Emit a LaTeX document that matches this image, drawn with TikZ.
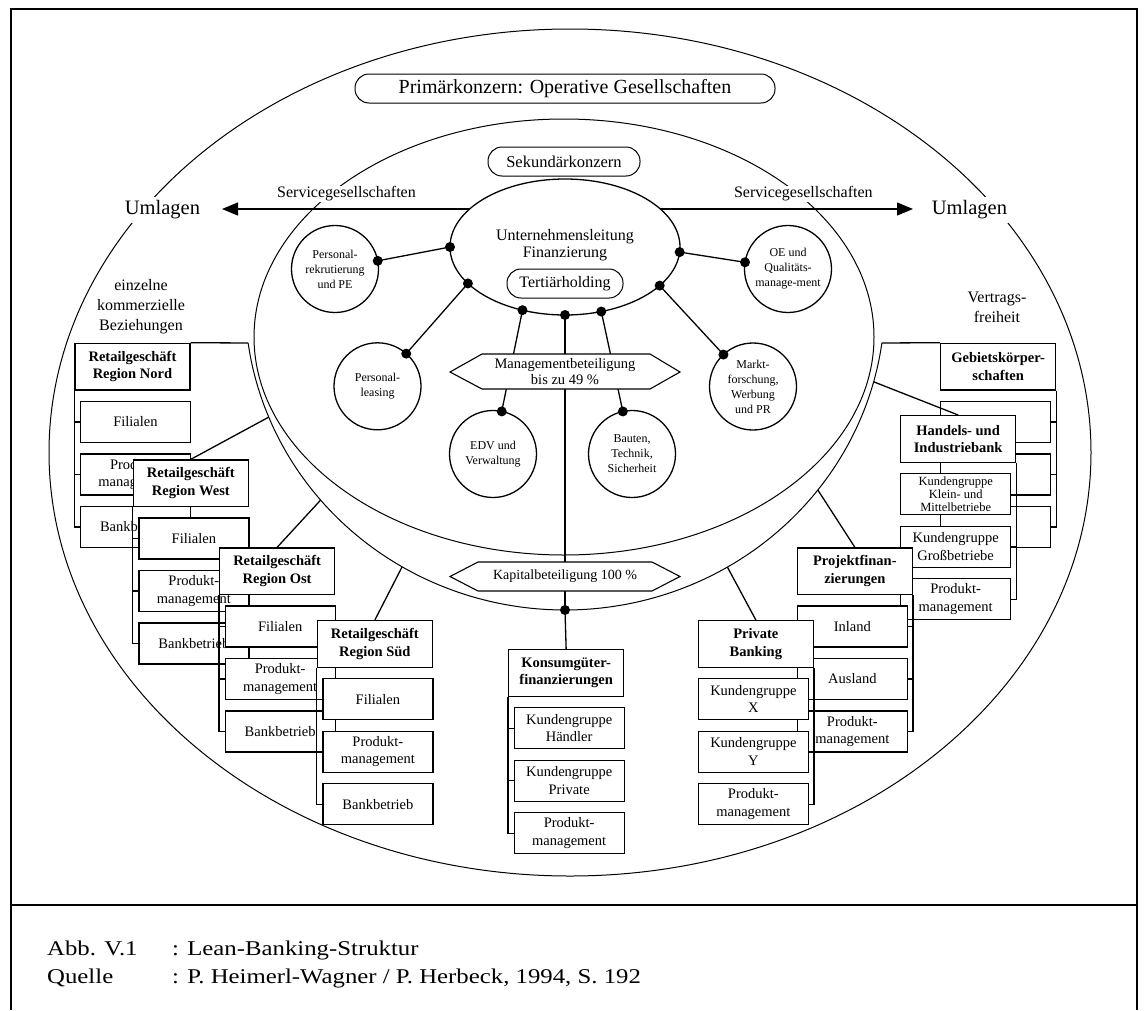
\documentclass[tikz,border=0pt]{standalone}
\usepackage{fontspec}
\setmainfont{Liberation Serif}
\newfontfamily\capfont[FakeStretch=1.18]{Liberation Serif}
\usetikzlibrary{shapes.geometric,arrows.meta,calc}
\newcommand\LeftGrp[8]{%
  \node[hdr,anchor=north west] (#1H) at (#2,#3) {#4};
  \node[sub,anchor=north west,#8] (#1a) at ({#2+5.5},{#3+58}) {#5};
  \node[sub,anchor=north west] (#1b) at ({#2+5.5},{#3+110.5}) {#6};
  \node[sub,anchor=north west] (#1c) at ({#2+5.5},{#3+163}) {#7};
  \draw[ln] (#1H.south west) |- (#1c.west);
  \draw[ln] (#1H.south west |- #1a.west) -- (#1a.west);
  \draw[ln] (#1H.south west |- #1b.west) -- (#1b.west);
}
\newcommand\RightGrp[8]{%
  \node[hdr,anchor=north west] (#1H) at (#2,#3) {#4};
  \node[sub,anchor=north west,#8] (#1a) at (#2,{#3+58}) {#5};
  \node[sub,anchor=north west] (#1b) at (#2,{#3+110.5}) {#6};
  \node[sub,anchor=north west] (#1c) at (#2,{#3+163}) {#7};
  \draw[ln] (#1H.south east) |- (#1c.east);
  \draw[ln] (#1H.south east |- #1a.east) -- (#1a.east);
  \draw[ln] (#1H.south east |- #1b.east) -- (#1b.east);
}
\begin{document}
\begin{tikzpicture}[x=1pt,y=-1pt,
  every node/.style={inner sep=0pt},
  thinln/.style={line width=1pt},
  ln/.style={line width=1.3pt},
  hdr/.style={draw,fill=white,line width=1.3pt,minimum width=115pt,minimum height=46.5pt,align=center,font=\bfseries\fontsize{14.5}{17.5}\selectfont},
  sub/.style={draw,fill=white,line width=1.3pt,minimum width=110pt,minimum height=41pt,align=center,font=\fontsize{14.5}{17.5}\selectfont},
  circ/.style={draw,fill=white,circle,line width=1.3pt,minimum size=87pt,align=center,font=\fontsize{12}{15}\selectfont},
  pill/.style={draw,fill=white,rounded corners=14pt,line width=1pt,minimum height=29pt},
  hexa/.style={draw,fill=white,line width=1.1pt},
  dotr/.style={fill=black},
  captxt/.style={anchor=base west,font=\capfont\fontsize{21}{24}\selectfont}
  ]
\useasboundingbox (0,0) rectangle (1146,1010);
% frame
\draw[line width=2pt] (11,1010) -- (11,9) -- (1137,9) -- (1137,1010);
\draw[line width=2pt] (11,905) -- (1137,905);
% outer ellipse, inner disc, U-curve
\draw[thinln] (570,452.5) ellipse [x radius=521, y radius=423.5];
\draw[thinln] (564,337) ellipse [x radius=310, y radius=218];
\draw[thinln] plot[smooth, domain=7.97:172.03, samples=70] ({565+320*cos(\x)},{300+310*sin(\x)});
% U-curve coordinates
\coordinate (uN) at ({565+320*cos(172.03)},{300+310*sin(172.03)});
\coordinate (uW) at ({565+320*cos(157.8)},{300+310*sin(157.8)});
\coordinate (uO) at ({565+320*cos(139.8)},{300+310*sin(139.8)});
\coordinate (uS) at ({565+320*cos(120.6)},{300+310*sin(120.6)});
\coordinate (uK) at (565,610);
\coordinate (uP) at ({565+320*cos(59.5)},{300+310*sin(59.5)});
\coordinate (uPF) at ({565+320*cos(37.8)},{300+310*sin(37.8)});
\coordinate (uH) at ({565+320*cos(15.3)},{300+310*sin(15.3)});
\coordinate (uG) at ({565+320*cos(7.97)},{300+310*sin(7.97)});
% arrow
\coordinate (arrL) at (222,209);
\coordinate (arrR) at (913,209);
\draw[line width=1.3pt,{Triangle[length=16pt,width=13pt]}-{Triangle[length=16pt,width=13pt]}] (arrL) -- (arrR);
% central ellipse
\node[draw,fill=white,ellipse,line width=1.3pt,minimum width=230pt,minimum height=136pt] (ul) at (565,247) {};
\node[font=\fontsize{16}{17}\selectfont,align=center] (ult) at (565,245) {Unternehmensleitung\\Finanzierung};
\node[pill,minimum width=116pt,font=\fontsize{16}{18}\selectfont] (th) at (565,283.5) {Tertiärholding};
\coordinate (e1) at ({565+115*cos(180)},{247+68*sin(180)});
\coordinate (e2) at ({565+115*cos(147.6)},{247+68*sin(147.6)});
\coordinate (e3) at ({565+115*cos(111.7)},{247+68*sin(111.7)});
\coordinate (e4) at (565,315);
\coordinate (e5) at ({565+115*cos(71.6)},{247+68*sin(71.6)});
\coordinate (e6) at ({565+115*cos(34.6)},{247+68*sin(34.6)});
\coordinate (e7) at ({565+115*cos(4.3)},{247+68*sin(4.3)});
% circles
\node[circ] (pr) at (335,269) {Personal-\\rekrutierung\\und PE};
\node[circ] (pl) at (377.5,386.3) {Personal-\\leasing};
\node[circ] (edv) at (493,454) {EDV und\\Verwaltung};
\node[circ] (bt) at (632,454) {Bauten,\\Technik,\\Sicherheit};
\node[circ] (mf) at (753,386.5) {Markt-\\forschung,\\Werbung\\und PR};
\node[circ] (oe) at (788,269) {OE und\\Qualitäts-\\manage-ment};
\coordinate (prd) at ($(pr)!43.5pt!(e1)$);
\coordinate (pld) at ($(pl)!43.5pt!(e2)$);
\coordinate (edvd) at ($(edv)!43.5pt!(e3)$);
\coordinate (btd) at ($(bt)!43.5pt!(e5)$);
\coordinate (mfd) at ($(mf)!43.5pt!(e6)$);
\coordinate (oed) at ($(oe)!43.5pt!(e7)$);
\draw[ln] (e1) -- (prd);
\draw[ln] (e2) -- (pld);
\draw[ln] (e3) -- (edvd);
\draw[ln] (e5) -- (btd);
\draw[ln] (e6) -- (mfd);
\draw[ln] (e7) -- (oed);
\draw[ln] (e4) -- (uK);
\foreach \d in {e1,e2,e3,e4,e5,e6,e7,prd,pld,edvd,btd,mfd,oed,uK} \fill[dotr] (\d) circle (5pt);
% hexagons
\draw[hexa] (450,372) -- (482,354) -- (650,354) -- (680,372) -- (650,389) -- (482,389) -- cycle;
\node[font=\fontsize{14.5}{16}\selectfont,align=center] (mb) at (565,371.5) {Managementbeteiligung\\bis zu 49 \%};
\draw[hexa] (450,576.5) -- (478,562) -- (652,562) -- (680,576.5) -- (652,591) -- (478,591) -- cycle;
\node[font=\fontsize{14}{16}\selectfont] (kb) at (565,576.5) {Kapitalbeteiligung 100 \%};
% left groups
\LeftGrp{nord}{74.3}{342.7}{Retailgeschäft\\Region Nord}{Filialen}{Produkt-\\management}{Bankbetrieb}{}
\draw[ln] (nordH.north east) -- (uN);
\LeftGrp{west}{132.7}{459.3}{Retailgeschäft\\Region West}{Filialen}{Produkt-\\management}{Bankbetrieb}{}
\draw[ln] (westH.north) -- (uW);
\LeftGrp{ost}{219}{547.3}{Retailgeschäft\\Region Ost}{Filialen}{Produkt-\\management}{Bankbetrieb}{}
\draw[ln] (ostH.north) -- (uO);
\LeftGrp{sued}{316.7}{620}{Retailgeschäft\\Region Süd}{Filialen}{Produkt-\\management}{Bankbetrieb}{}
\draw[ln] (suedH.north) -- (uS);
% right groups
\RightGrp{geb}{940}{342.7}{Gebietskörper-\\schaften}{}{}{}{}
\draw[ln] (uG) -- (gebH.north west);
\RightGrp{hib}{900}{415}{Handels- und\\Industriebank}{Kundengruppe\\Klein- und\\Mittelbetriebe}{Kundengruppe\\Großbetriebe}{Produkt-\\management}{font=\fontsize{12.5}{13.3}\selectfont}
\draw[ln] (hibH.north) -- (uH);
\RightGrp{pf}{796.7}{547.3}{Projektfinan-\\zierungen}{Inland}{Ausland}{Produkt-\\management}{}
\draw[ln] (pfH.north) -- (uPF);
\RightGrp{pb}{697.7}{620}{Private\\Banking}{Kundengruppe\\X}{Kundengruppe\\Y}{Produkt-\\management}{}
\draw[ln] (pbH.north) -- (uP);
% Konsum
\LeftGrp{kons}{508}{649}{Konsumgüter-\\finanzierungen}{Kundengruppe\\Händler}{Kundengruppe\\Private}{Produkt-\\management}{}
\draw[ln] (uK) -- (konsH.north);
% labels
\node[fill=white,inner sep=1pt,font=\fontsize{16}{18}\selectfont] (sgL) at (346.5,194) {Servicegesellschaften};
\node[fill=white,inner sep=1pt,font=\fontsize{16}{18}\selectfont] (sgR) at (803.3,194) {Servicegesellschaften};
\node[fill=white,inner sep=4pt,font=\fontsize{20.5}{24}\selectfont] (umL) at (162.5,210) {Umlagen};
\node[fill=white,inner sep=4pt,font=\fontsize{20.5}{24}\selectfont] (umR) at (969.5,210) {Umlagen};
\node[align=center,font=\fontsize{16}{20}\selectfont] (ekb) at (141,307) {einzelne\\kommerzielle\\Beziehungen};
\node[align=center,font=\fontsize{16}{20}\selectfont] (vf) at (997,307) {Vertrags-\\freiheit};
\node[pill,minimum width=420pt,font=\fontsize{20}{22}\selectfont] (pk) at (565,88.5) {Primärkonzern: Operative Gesellschaften};
\node[pill,minimum width=152pt,font=\fontsize{16.5}{18}\selectfont] (sk) at (564,161.5) {Sekundärkonzern};
% caption
\node[captxt] (abb) at (47,955) {Abb. V.1};
\node[captxt] (abbt) at (172,955) {: Lean-Banking-Struktur};
\node[captxt] (quel) at (47,983) {Quelle};
\node[captxt] (quelt) at (172,983) {: P. Heimerl-Wagner / P. Herbeck, 1994, S. 192};
\end{tikzpicture}
\end{document}
